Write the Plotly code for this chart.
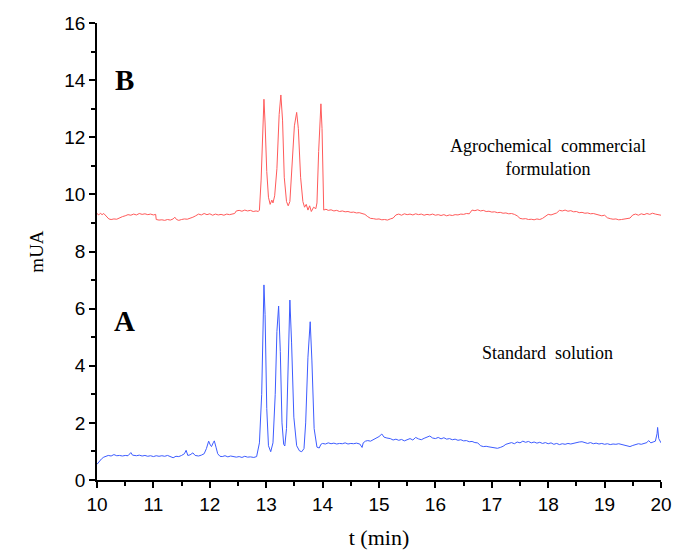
import plotly.graph_objects as go

# Trace A: standard solution (blue)
t_A = [10.00, 10.04, 10.08, 10.12, 10.16, 10.20, 10.25, 10.30, 10.35, 10.40, 10.45, 10.50, 10.55, 10.60, 10.63,
       10.70, 10.75, 10.80, 10.85, 10.90, 10.95, 11.00, 11.05, 11.10, 11.15, 11.20, 11.25, 11.30, 11.35, 11.40,
       11.45, 11.50, 11.55, 11.58, 11.61, 11.65, 11.70, 11.74, 11.80, 11.85, 11.90, 11.94, 11.98, 12.01, 12.03,
       12.06, 12.08, 12.11, 12.14, 12.18, 12.22, 12.27, 12.32, 12.37, 12.42, 12.47, 12.52, 12.57, 12.62, 12.67,
       12.72, 12.78, 12.83,
       12.88, 12.92, 12.95, 12.96, 12.98, 13.01, 13.04, 13.08, 13.12, 13.16, 13.19, 13.22, 13.25, 13.28, 13.31,
       13.33, 13.36, 13.39, 13.42, 13.45, 13.49, 13.54, 13.59, 13.63, 13.67, 13.70, 13.74, 13.78, 13.81, 13.85,
       13.90, 13.94, 13.97,
       14.00, 14.05, 14.10, 14.15, 14.20, 14.25, 14.30, 14.35, 14.40, 14.45, 14.50, 14.55, 14.60, 14.66, 14.70,
       14.72, 14.76, 14.80, 14.85, 14.90, 14.95, 15.00, 15.05, 15.09, 15.14, 15.20, 15.25, 15.30, 15.35, 15.40,
       15.45, 15.50, 15.55, 15.60, 15.65, 15.70, 15.75, 15.80, 15.85, 15.90, 15.95, 16.00, 16.05, 16.10, 16.15,
       16.20, 16.25, 16.30, 16.35, 16.40, 16.45, 16.50, 16.55, 16.60, 16.65, 16.70, 16.75, 16.80, 16.85, 16.90,
       16.95, 17.00, 17.05, 17.10, 17.15, 17.20, 17.25, 17.30, 17.35, 17.40, 17.45, 17.50, 17.55, 17.60, 17.65,
       17.70, 17.75, 17.80, 17.85, 17.90, 17.95, 18.00, 18.05, 18.10, 18.15, 18.20, 18.25, 18.30, 18.35, 18.40,
       18.45, 18.50, 18.55, 18.60, 18.65, 18.70, 18.75, 18.80, 18.85, 18.90, 18.95, 19.00, 19.05, 19.10, 19.15,
       19.20, 19.25, 19.30, 19.35, 19.40, 19.45, 19.50, 19.55, 19.60, 19.65, 19.70, 19.75, 19.78, 19.82, 19.86,
       19.90, 19.93, 19.94, 19.96, 19.98, 20.00]
mUA_A = [0.55, 0.66, 0.74, 0.80, 0.84, 0.86, 0.84, 0.89, 0.85, 0.86, 0.84, 0.86, 0.85, 0.96, 0.87,
         0.85, 0.87, 0.84, 0.86, 0.83, 0.85, 0.82, 0.85, 0.83, 0.85, 0.83, 0.86, 0.81, 0.78, 0.83,
         0.82, 0.86, 0.92, 1.04, 0.86, 0.88, 0.95, 0.86, 0.84, 0.87, 0.92, 1.10, 1.36, 1.22, 1.17,
         1.30, 1.37, 1.15, 0.92, 0.83, 0.82, 0.85, 0.81, 0.84, 0.83, 0.80, 0.82, 0.79, 0.83, 0.80,
         0.81, 0.79, 0.82,
         1.30, 3.00, 6.00, 6.83, 5.80, 2.50, 1.20, 0.99, 1.30, 3.00, 5.20, 6.09, 4.50, 2.00, 1.25,
         1.19, 1.80, 4.50, 6.30, 4.80, 2.20, 1.20, 1.02, 0.99, 1.10, 2.00, 4.30, 5.54, 4.20, 1.80,
         1.15, 1.12, 1.25,
         1.28, 1.26, 1.30, 1.27, 1.29, 1.26, 1.28, 1.27, 1.30, 1.26, 1.28, 1.27, 1.29, 1.26, 1.14,
         1.30, 1.36, 1.38, 1.36, 1.41, 1.45, 1.52, 1.61, 1.50, 1.47, 1.45, 1.40, 1.43, 1.39, 1.42,
         1.37, 1.41, 1.45, 1.40, 1.49, 1.44, 1.41, 1.46, 1.50, 1.54, 1.47, 1.45, 1.49, 1.44, 1.48,
         1.43, 1.45, 1.41, 1.43, 1.39, 1.41, 1.37, 1.38, 1.34, 1.35, 1.31, 1.30, 1.20, 1.17, 1.18,
         1.16, 1.15, 1.13, 1.11, 1.14, 1.18, 1.25, 1.28, 1.31, 1.27, 1.33, 1.30, 1.36, 1.32, 1.35,
         1.30, 1.33, 1.29, 1.32, 1.28, 1.31, 1.27, 1.30, 1.25, 1.28, 1.24, 1.27, 1.25, 1.28, 1.26,
         1.29, 1.30, 1.33, 1.34, 1.30, 1.28, 1.31, 1.27, 1.29, 1.26, 1.28, 1.25, 1.27, 1.24, 1.26,
         1.25, 1.27, 1.24, 1.22, 1.19, 1.17, 1.21, 1.25, 1.27, 1.25, 1.29, 1.31, 1.38, 1.30, 1.33,
         1.36, 1.62, 1.84, 1.45, 1.38, 1.30]

# Trace B: agrochemical commercial formulation (red)
t_B = [10.00, 10.03, 10.06, 10.09, 10.12, 10.15, 10.18, 10.21, 10.25, 10.30, 10.35, 10.40, 10.45, 10.50, 10.55,
       10.60, 10.65, 10.70, 10.75, 10.80, 10.85, 10.90, 10.95, 11.00, 11.04, 11.05, 11.10, 11.15, 11.20, 11.25,
       11.30, 11.35, 11.38, 11.41, 11.45, 11.50, 11.55, 11.60, 11.65, 11.70, 11.75, 11.80, 11.85, 11.90, 11.95,
       12.00, 12.05, 12.10, 12.15, 12.20, 12.25, 12.30, 12.35, 12.40, 12.44, 12.47, 12.52, 12.57, 12.62, 12.67,
       12.72, 12.77, 12.82, 12.86,
       12.88, 12.91, 12.94, 12.96, 12.98, 13.01, 13.04, 13.07, 13.10, 13.12, 13.15, 13.19, 13.23, 13.26, 13.29,
       13.32, 13.36, 13.39, 13.42, 13.46, 13.50, 13.54, 13.57, 13.61, 13.65, 13.68, 13.71, 13.74, 13.77, 13.80,
       13.84, 13.88, 13.90, 13.93, 13.96, 13.97, 13.99, 14.01,
       14.02, 14.06, 14.10, 14.15, 14.20, 14.25, 14.30, 14.35, 14.40, 14.45, 14.50, 14.55, 14.60, 14.65, 14.70,
       14.75, 14.80, 14.85, 14.90, 14.95, 15.00, 15.05, 15.10, 15.15, 15.20, 15.25, 15.30, 15.35, 15.40, 15.45,
       15.50, 15.55, 15.60, 15.65, 15.70, 15.75, 15.80, 15.85, 15.90, 15.95, 16.00, 16.05, 16.10, 16.15, 16.20,
       16.25, 16.30, 16.35, 16.40, 16.45, 16.50, 16.55, 16.60, 16.65, 16.70, 16.75, 16.80, 16.85, 16.90, 16.95,
       17.00, 17.05, 17.10, 17.15, 17.20, 17.25, 17.30, 17.35, 17.40, 17.45, 17.50, 17.55, 17.60, 17.65, 17.70,
       17.75, 17.80, 17.85, 17.90, 17.95, 18.00, 18.05, 18.10, 18.15, 18.20, 18.25, 18.30, 18.35, 18.40, 18.45,
       18.50, 18.55, 18.60, 18.65, 18.70, 18.75, 18.80, 18.85, 18.90, 18.95, 19.00, 19.05, 19.10, 19.15, 19.20,
       19.25, 19.30, 19.35, 19.40, 19.45, 19.50, 19.55, 19.60, 19.65, 19.70, 19.75, 19.80, 19.85, 19.90, 19.95,
       20.00]
mUA_B = [9.33, 9.28, 9.34, 9.29, 9.33, 9.27, 9.20, 9.14, 9.12, 9.14, 9.13, 9.18, 9.22, 9.25, 9.29,
         9.27, 9.31, 9.28, 9.33, 9.30, 9.32, 9.29, 9.31, 9.28, 9.30, 9.12, 9.10, 9.11, 9.09, 9.12,
         9.10, 9.14, 9.20, 9.12, 9.09, 9.12, 9.14, 9.13, 9.16, 9.20, 9.25, 9.31, 9.28, 9.33, 9.29,
         9.32, 9.27, 9.31, 9.28, 9.30, 9.27, 9.31, 9.29, 9.30, 9.33, 9.42, 9.44, 9.41, 9.45, 9.42,
         9.44, 9.40, 9.42, 9.40,
         9.45, 10.50, 12.60, 13.33, 12.50, 10.80, 9.90, 9.65, 9.80, 9.70, 9.95, 10.90, 12.80, 13.48, 12.60,
         10.60, 9.75, 9.60, 9.75, 10.90, 12.40, 12.87, 12.30, 10.60, 9.75, 9.55, 9.65, 9.45, 9.60, 9.40,
         9.55, 9.50, 9.70, 11.50, 13.10, 13.17, 12.30, 10.00,
         9.45, 9.48, 9.44, 9.46, 9.42, 9.44, 9.40, 9.42, 9.39, 9.40, 9.37, 9.38, 9.35, 9.36, 9.33,
         9.30, 9.22, 9.16, 9.15, 9.13, 9.14, 9.11, 9.12, 9.10, 9.14, 9.17, 9.28, 9.31, 9.27, 9.32,
         9.29, 9.31, 9.28, 9.32, 9.29, 9.31, 9.27, 9.30, 9.28, 9.31, 9.27, 9.29, 9.26, 9.29, 9.25,
         9.28, 9.26, 9.29, 9.28, 9.31, 9.30, 9.33, 9.32, 9.45, 9.43, 9.46, 9.42, 9.44, 9.40, 9.41,
         9.38, 9.39, 9.36, 9.37, 9.34, 9.35, 9.32, 9.33, 9.30, 9.25, 9.16, 9.14, 9.15, 9.12, 9.13,
         9.11, 9.14, 9.12, 9.16, 9.24, 9.30, 9.28, 9.32, 9.35, 9.44, 9.42, 9.45, 9.41, 9.43, 9.39,
         9.40, 9.36, 9.37, 9.34, 9.35, 9.32, 9.33, 9.30, 9.28, 9.25, 9.27, 9.18, 9.15, 9.13, 9.14,
         9.11, 9.12, 9.13, 9.15, 9.17, 9.28, 9.31, 9.27, 9.32, 9.29, 9.33, 9.30, 9.34, 9.31, 9.29,
         9.27]

x_ticks = [10, 11, 12, 13, 14, 15, 16, 17, 18, 19, 20]
y_ticks = [0, 2, 4, 6, 8, 10, 12, 14, 16]

fig = go.Figure()
fig.add_trace(go.Scatter(x=t_B, y=mUA_B, mode="lines", line=dict(color="#ff5a5a", width=1), showlegend=False))
fig.add_trace(go.Scatter(x=t_A, y=mUA_A, mode="lines", line=dict(color="#3d5cff", width=1), showlegend=False))

serif = "Liberation Serif, Times New Roman, serif"
sans = "Liberation Sans, Arial, sans-serif"

fig.add_annotation(x=10.48, y=14.0, text="<b>B</b>", showarrow=False, font=dict(family=serif, size=29, color="black"))
fig.add_annotation(x=10.48, y=5.55, text="<b>A</b>", showarrow=False, font=dict(family=serif, size=29, color="black"))
fig.add_annotation(x=17.99, y=11.3, text="Agrochemical  commercial<br>formulation", showarrow=False,
                   font=dict(family=serif, size=18, color="black"), align="center")
fig.add_annotation(x=17.99, y=4.45, text="Standard  solution", showarrow=False,
                   font=dict(family=serif, size=18, color="black"))

fig.update_layout(
    width=674, height=550,
    margin=dict(l=97, r=13, t=23, b=70),
    plot_bgcolor="white", paper_bgcolor="white",
)
fig.update_xaxes(
    range=[10, 20], tickvals=x_ticks, ticktext=[str(v) for v in x_ticks],
    showline=True, linecolor="black", linewidth=1.5, showgrid=False, zeroline=False,
    ticks="outside", ticklen=6, tickwidth=1.5, tickcolor="black",
    minor=dict(dtick=0.5, ticks="outside", ticklen=4, tickwidth=1.5, tickcolor="black", showgrid=False),
    tickfont=dict(family=sans, size=19, color="black"), automargin=False,
    title=dict(text="t (min)", font=dict(family=serif, size=22, color="black"), standoff=18),
)
fig.update_yaxes(
    range=[0, 16], tickvals=y_ticks, ticktext=[str(v) for v in y_ticks],
    showline=True, linecolor="black", linewidth=1.5, showgrid=False, zeroline=False,
    ticks="outside", ticklen=6, tickwidth=1.5, tickcolor="black",
    minor=dict(dtick=1, ticks="outside", ticklen=4, tickwidth=1.5, tickcolor="black", showgrid=False),
    tickfont=dict(family=sans, size=19, color="black"), automargin=False,
    title=dict(text="mUA", font=dict(family=serif, size=19, color="black"), standoff=16),
)

# Remove the page's default body margin so the 674x550 figure fills the window exactly.
fig.write_html("out.html", config={"displayModeBar": False},
               post_script="document.body.style.margin='0';document.body.style.overflow='hidden';")
